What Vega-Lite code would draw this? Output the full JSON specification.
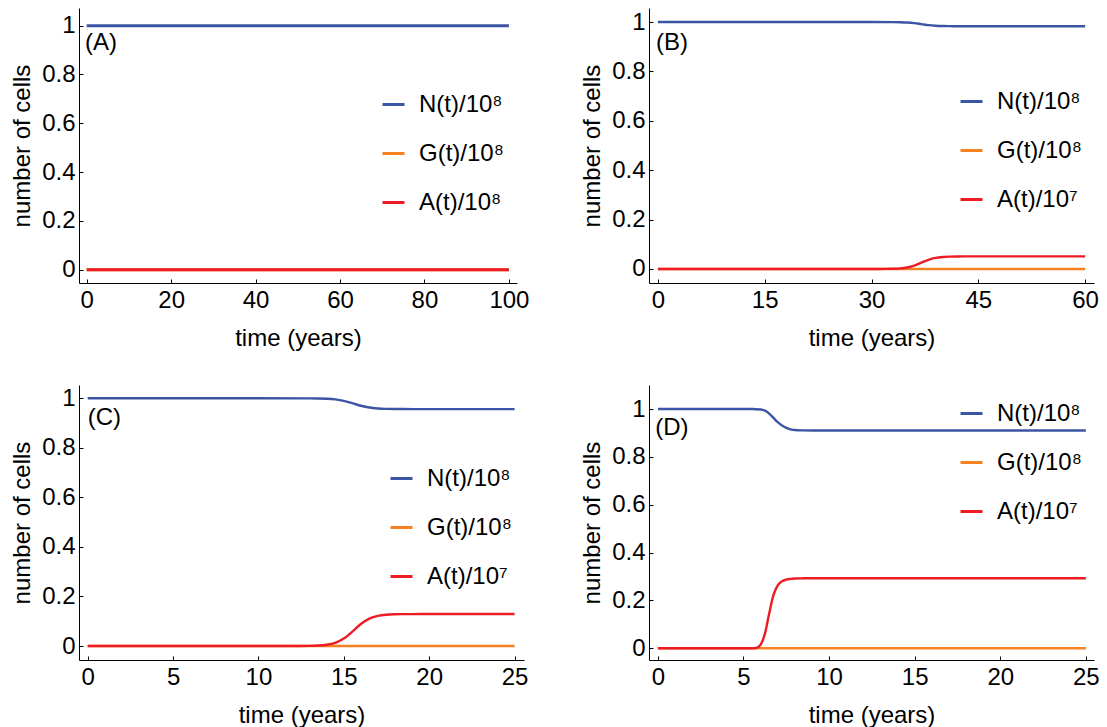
{
  "$schema": "https://vega.github.io/schema/vega-lite/v6.json",
  "padding": {"left": 10, "top": 8, "right": 5, "bottom": 5},
  "background": "white",
  "config": {
    "font": "Liberation Sans",
    "view": {"stroke": null},
    "axis": {"grid": false, "domainColor": "#000", "domainWidth": 1, "tickColor": "#000", "tickWidth": 1, "tickSize": -4, "labelFont": "Liberation Sans", "labelFontSize": 24, "labelColor": "#000", "titleFont": "Liberation Sans", "titleFontSize": 24, "titleFontWeight": "normal", "titleColor": "#000", "labelFlush": false, "labelOverlap": false},
    "axisX": {"labelPadding": 9, "titlePadding": 14},
    "axisY": {"labelPadding": 8, "titlePadding": 7},
    "legend": {"symbolType": "stroke", "symbolSize": 484, "symbolStrokeWidth": 3, "labelFont": "Liberation Sans", "labelFontSize": 24, "labelColor": "#000", "labelOffset": 13, "rowPadding": 24, "padding": 0, "labelLimit": 0}
  },
  "datasets": {
    "A": [
      {"s": "N(t)/10⁸", "t": 0, "v": 1}, {"s": "N(t)/10⁸", "t": 50, "v": 1}, {"s": "N(t)/10⁸", "t": 100, "v": 1},
      {"s": "G(t)/10⁸", "t": 0, "v": 0}, {"s": "G(t)/10⁸", "t": 50, "v": 0}, {"s": "G(t)/10⁸", "t": 100, "v": 0},
      {"s": "A(t)/10⁸", "t": 0, "v": 0}, {"s": "A(t)/10⁸", "t": 50, "v": 0}, {"s": "A(t)/10⁸", "t": 100, "v": 0}
    ],
    "B": [
      {"s": "N(t)/10⁸", "t": 0, "v": 1}, {"s": "N(t)/10⁸", "t": 10, "v": 1}, {"s": "N(t)/10⁸", "t": 20, "v": 1}, {"s": "N(t)/10⁸", "t": 30, "v": 1}, {"s": "N(t)/10⁸", "t": 33, "v": 0.9997}, {"s": "N(t)/10⁸", "t": 34, "v": 0.9992}, {"s": "N(t)/10⁸", "t": 35, "v": 0.998}, {"s": "N(t)/10⁸", "t": 36, "v": 0.9954}, {"s": "N(t)/10⁸", "t": 37, "v": 0.9915}, {"s": "N(t)/10⁸", "t": 38, "v": 0.9875}, {"s": "N(t)/10⁸", "t": 39, "v": 0.985}, {"s": "N(t)/10⁸", "t": 40, "v": 0.9837}, {"s": "N(t)/10⁸", "t": 41, "v": 0.9832}, {"s": "N(t)/10⁸", "t": 42, "v": 0.983}, {"s": "N(t)/10⁸", "t": 50, "v": 0.983}, {"s": "N(t)/10⁸", "t": 60, "v": 0.983},
      {"s": "G(t)/10⁸", "t": 0, "v": 0}, {"s": "G(t)/10⁸", "t": 30, "v": 0}, {"s": "G(t)/10⁸", "t": 60, "v": 0},
      {"s": "A(t)/10⁷", "t": 0, "v": 0}, {"s": "A(t)/10⁷", "t": 10, "v": 0}, {"s": "A(t)/10⁷", "t": 20, "v": 0}, {"s": "A(t)/10⁷", "t": 30, "v": 0}, {"s": "A(t)/10⁷", "t": 32, "v": 0.0003}, {"s": "A(t)/10⁷", "t": 33, "v": 0.0009}, {"s": "A(t)/10⁷", "t": 34, "v": 0.0024}, {"s": "A(t)/10⁷", "t": 35, "v": 0.0061}, {"s": "A(t)/10⁷", "t": 36, "v": 0.0137}, {"s": "A(t)/10⁷", "t": 37, "v": 0.0255}, {"s": "A(t)/10⁷", "t": 38, "v": 0.0373}, {"s": "A(t)/10⁷", "t": 39, "v": 0.0449}, {"s": "A(t)/10⁷", "t": 40, "v": 0.0486}, {"s": "A(t)/10⁷", "t": 41, "v": 0.0501}, {"s": "A(t)/10⁷", "t": 42, "v": 0.0507}, {"s": "A(t)/10⁷", "t": 44, "v": 0.051}, {"s": "A(t)/10⁷", "t": 50, "v": 0.051}, {"s": "A(t)/10⁷", "t": 60, "v": 0.051}
    ],
    "C": [
      {"s": "N(t)/10⁸", "t": 0, "v": 1}, {"s": "N(t)/10⁸", "t": 5, "v": 1}, {"s": "N(t)/10⁸", "t": 10, "v": 1}, {"s": "N(t)/10⁸", "t": 13, "v": 0.9998}, {"s": "N(t)/10⁸", "t": 13.5, "v": 0.9994}, {"s": "N(t)/10⁸", "t": 14, "v": 0.9983}, {"s": "N(t)/10⁸", "t": 14.5, "v": 0.9956}, {"s": "N(t)/10⁸", "t": 15, "v": 0.9899}, {"s": "N(t)/10⁸", "t": 15.5, "v": 0.9804}, {"s": "N(t)/10⁸", "t": 16, "v": 0.97}, {"s": "N(t)/10⁸", "t": 16.5, "v": 0.9627}, {"s": "N(t)/10⁸", "t": 17, "v": 0.959}, {"s": "N(t)/10⁸", "t": 17.5, "v": 0.9574}, {"s": "N(t)/10⁸", "t": 18, "v": 0.9568}, {"s": "N(t)/10⁸", "t": 19, "v": 0.9565}, {"s": "N(t)/10⁸", "t": 20, "v": 0.9565}, {"s": "N(t)/10⁸", "t": 25, "v": 0.9565},
      {"s": "G(t)/10⁸", "t": 0, "v": 0}, {"s": "G(t)/10⁸", "t": 12.5, "v": 0}, {"s": "G(t)/10⁸", "t": 25, "v": 0},
      {"s": "A(t)/10⁷", "t": 0, "v": 0}, {"s": "A(t)/10⁷", "t": 5, "v": 0}, {"s": "A(t)/10⁷", "t": 10, "v": 0}, {"s": "A(t)/10⁷", "t": 12, "v": 0.0001}, {"s": "A(t)/10⁷", "t": 13, "v": 0.0007}, {"s": "A(t)/10⁷", "t": 13.5, "v": 0.0019}, {"s": "A(t)/10⁷", "t": 14, "v": 0.0051}, {"s": "A(t)/10⁷", "t": 14.5, "v": 0.0129}, {"s": "A(t)/10⁷", "t": 15, "v": 0.0299}, {"s": "A(t)/10⁷", "t": 15.5, "v": 0.0581}, {"s": "A(t)/10⁷", "t": 16, "v": 0.089}, {"s": "A(t)/10⁷", "t": 16.5, "v": 0.1107}, {"s": "A(t)/10⁷", "t": 17, "v": 0.1216}, {"s": "A(t)/10⁷", "t": 17.5, "v": 0.1262}, {"s": "A(t)/10⁷", "t": 18, "v": 0.128}, {"s": "A(t)/10⁷", "t": 18.5, "v": 0.1286}, {"s": "A(t)/10⁷", "t": 19, "v": 0.1289}, {"s": "A(t)/10⁷", "t": 20, "v": 0.129}, {"s": "A(t)/10⁷", "t": 25, "v": 0.129}
    ],
    "D": [
      {"s": "N(t)/10⁸", "t": 0, "v": 1}, {"s": "N(t)/10⁸", "t": 3, "v": 1}, {"s": "N(t)/10⁸", "t": 5.5, "v": 1}, {"s": "N(t)/10⁸", "t": 6, "v": 0.998}, {"s": "N(t)/10⁸", "t": 6.25, "v": 0.993}, {"s": "N(t)/10⁸", "t": 6.5, "v": 0.981}, {"s": "N(t)/10⁸", "t": 6.75, "v": 0.963}, {"s": "N(t)/10⁸", "t": 7, "v": 0.945}, {"s": "N(t)/10⁸", "t": 7.25, "v": 0.931}, {"s": "N(t)/10⁸", "t": 7.5, "v": 0.921}, {"s": "N(t)/10⁸", "t": 7.75, "v": 0.915}, {"s": "N(t)/10⁸", "t": 8, "v": 0.912}, {"s": "N(t)/10⁸", "t": 8.5, "v": 0.9105}, {"s": "N(t)/10⁸", "t": 9, "v": 0.91}, {"s": "N(t)/10⁸", "t": 15, "v": 0.91}, {"s": "N(t)/10⁸", "t": 25, "v": 0.91},
      {"s": "G(t)/10⁸", "t": 0, "v": 0}, {"s": "G(t)/10⁸", "t": 12.5, "v": 0}, {"s": "G(t)/10⁸", "t": 25, "v": 0},
      {"s": "A(t)/10⁷", "t": 0, "v": 0}, {"s": "A(t)/10⁷", "t": 3, "v": 0}, {"s": "A(t)/10⁷", "t": 5.5, "v": 0}, {"s": "A(t)/10⁷", "t": 5.75, "v": 0.002}, {"s": "A(t)/10⁷", "t": 6, "v": 0.015}, {"s": "A(t)/10⁷", "t": 6.25, "v": 0.06}, {"s": "A(t)/10⁷", "t": 6.5, "v": 0.145}, {"s": "A(t)/10⁷", "t": 6.75, "v": 0.222}, {"s": "A(t)/10⁷", "t": 7, "v": 0.263}, {"s": "A(t)/10⁷", "t": 7.25, "v": 0.28}, {"s": "A(t)/10⁷", "t": 7.5, "v": 0.287}, {"s": "A(t)/10⁷", "t": 7.75, "v": 0.29}, {"s": "A(t)/10⁷", "t": 8, "v": 0.2915}, {"s": "A(t)/10⁷", "t": 8.5, "v": 0.2925}, {"s": "A(t)/10⁷", "t": 9, "v": 0.293}, {"s": "A(t)/10⁷", "t": 15, "v": 0.293}, {"s": "A(t)/10⁷", "t": 25, "v": 0.293}
    ]
  },
  "columns": 2,
  "spacing": {"row": 102, "column": 125},
  "bounds": "flush",
  "resolve": {"scale": {"color": "independent"}, "legend": {"color": "independent"}},
  "concat": [
    {
      "width": 438, "height": 275,
      "layer": [
        {
          "data": {"name": "A"},
          "mark": {"type": "line", "interpolate": "monotone", "strokeWidth": 3},
          "encoding": {
            "x": {"field": "t", "type": "quantitative", "scale": {"domain": [-1.825, 101.92], "nice": false, "zero": false}, "axis": {"values": [0, 20, 40, 60, 80, 100], "title": "time (years)", "format": "d"}},
            "y": {"field": "v", "type": "quantitative", "scale": {"domain": [-0.0545, 1.0725], "nice": false, "zero": false}, "axis": {"values": [0, 0.2, 0.4, 0.6, 0.8, 1], "title": "number of cells", "format": "~g"}},
            "color": {"field": "s", "type": "nominal", "sort": null, "scale": {"domain": ["N(t)/10⁸", "G(t)/10⁸", "A(t)/10⁸"], "range": ["#3b55a5", "#f68121", "#ed1c24"]}, "legend": {"orient": "none", "legendX": 302, "legendY": 84, "title": null}}
          }
        },
        {
          "data": {"values": [{"t": -0.4, "v": 0.93, "label": "(A)"}]},
          "mark": {"type": "text", "align": "left", "baseline": "middle", "fontSize": 24, "font": "Liberation Sans", "color": "#000"},
          "encoding": {"x": {"field": "t", "type": "quantitative"}, "y": {"field": "v", "type": "quantitative"}, "text": {"field": "label"}}
        }
      ]
    },
    {
      "width": 445, "height": 275,
      "layer": [
        {
          "data": {"name": "B"},
          "mark": {"type": "line", "interpolate": "monotone", "strokeWidth": 2.4},
          "encoding": {
            "x": {"field": "t", "type": "quantitative", "scale": {"domain": [-1.25, 61.25], "nice": false, "zero": false}, "axis": {"values": [0, 15, 30, 45, 60], "title": "time (years)", "format": "d"}},
            "y": {"field": "v", "type": "quantitative", "scale": {"domain": [-0.0567, 1.0567], "nice": false, "zero": false}, "axis": {"values": [0, 0.2, 0.4, 0.6, 0.8, 1], "title": "number of cells", "format": "~g"}},
            "color": {"field": "s", "type": "nominal", "sort": null, "scale": {"domain": ["N(t)/10⁸", "G(t)/10⁸", "A(t)/10⁷"], "range": ["#3b55a5", "#f68121", "#ed1c24"]}, "legend": {"orient": "none", "legendX": 310, "legendY": 81, "title": null}}
          }
        },
        {
          "data": {"values": [{"t": -0.25, "v": 0.915, "label": "(B)"}]},
          "mark": {"type": "text", "align": "left", "baseline": "middle", "fontSize": 24, "font": "Liberation Sans", "color": "#000"},
          "encoding": {"x": {"field": "t", "type": "quantitative"}, "y": {"field": "v", "type": "quantitative"}, "text": {"field": "label"}}
        }
      ]
    },
    {
      "width": 445, "height": 275,
      "layer": [
        {
          "data": {"name": "C"},
          "mark": {"type": "line", "interpolate": "monotone", "strokeWidth": 2.4},
          "encoding": {
            "x": {"field": "t", "type": "quantitative", "scale": {"domain": [-0.509, 25.553], "nice": false, "zero": false}, "axis": {"values": [0, 5, 10, 15, 20, 25], "title": "time (years)", "format": "d"}},
            "y": {"field": "v", "type": "quantitative", "scale": {"domain": [-0.0565, 1.0537], "nice": false, "zero": false}, "axis": {"values": [0, 0.2, 0.4, 0.6, 0.8, 1], "title": "number of cells", "format": "~g"}},
            "color": {"field": "s", "type": "nominal", "sort": null, "scale": {"domain": ["N(t)/10⁸", "G(t)/10⁸", "A(t)/10⁷"], "range": ["#3b55a5", "#f68121", "#ed1c24"]}, "legend": {"orient": "none", "legendX": 310, "legendY": 81, "title": null}}
          }
        },
        {
          "data": {"values": [{"t": 0, "v": 0.919, "label": "(C)"}]},
          "mark": {"type": "text", "align": "left", "baseline": "middle", "fontSize": 24, "font": "Liberation Sans", "color": "#000"},
          "encoding": {"x": {"field": "t", "type": "quantitative"}, "y": {"field": "v", "type": "quantitative"}, "text": {"field": "label"}}
        }
      ]
    },
    {
      "width": 445, "height": 275,
      "layer": [
        {
          "data": {"name": "D"},
          "mark": {"type": "line", "interpolate": "monotone", "strokeWidth": 2.4},
          "encoding": {
            "x": {"field": "t", "type": "quantitative", "scale": {"domain": [-0.52, 25.476], "nice": false, "zero": false}, "axis": {"values": [0, 5, 10, 15, 20, 25], "title": "time (years)", "format": "d"}},
            "y": {"field": "v", "type": "quantitative", "scale": {"domain": [-0.0489, 1.1003], "nice": false, "zero": false}, "axis": {"values": [0, 0.2, 0.4, 0.6, 0.8, 1], "title": "number of cells", "format": "~g"}},
            "color": {"field": "s", "type": "nominal", "sort": null, "scale": {"domain": ["N(t)/10⁸", "G(t)/10⁸", "A(t)/10⁷"], "range": ["#3b55a5", "#f68121", "#ed1c24"]}, "legend": {"orient": "none", "legendX": 310, "legendY": 16, "title": null}}
          }
        },
        {
          "data": {"values": [{"t": -0.16, "v": 0.919, "label": "(D)"}]},
          "mark": {"type": "text", "align": "left", "baseline": "middle", "fontSize": 24, "font": "Liberation Sans", "color": "#000"},
          "encoding": {"x": {"field": "t", "type": "quantitative"}, "y": {"field": "v", "type": "quantitative"}, "text": {"field": "label"}}
        }
      ]
    }
  ]
}
